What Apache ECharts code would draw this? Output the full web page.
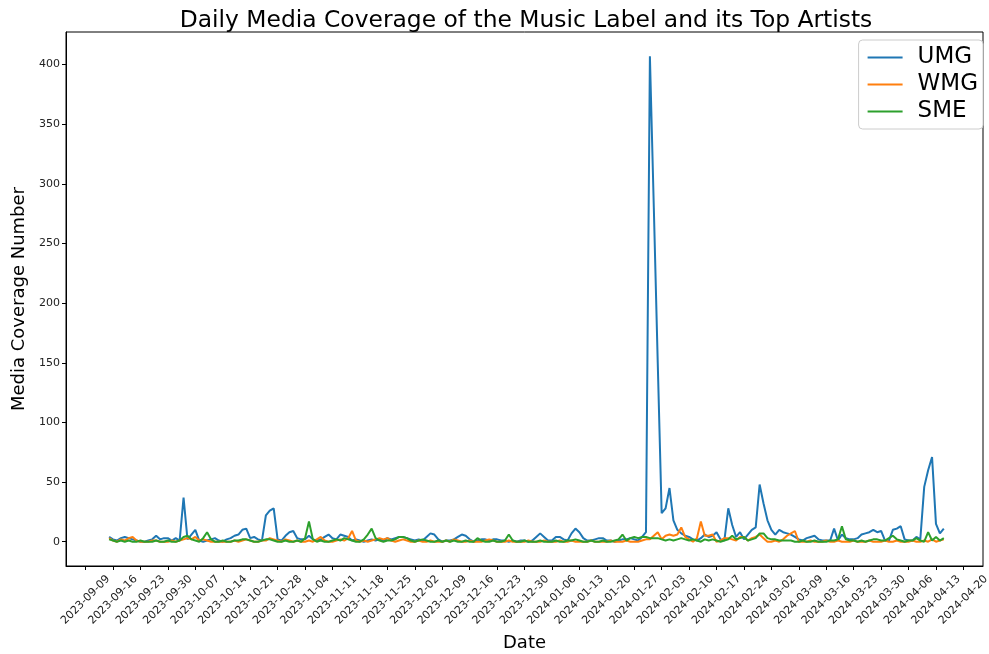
<!DOCTYPE html>
<html>
<head>
<meta charset="utf-8">
<script src="https://cdn.jsdelivr.net/npm/echarts@6/dist/echarts.min.js"></script>
<style>html,body{margin:0;padding:0;background:#fff}#c{width:989px;height:654px}</style>
</head>
<body>
<div id="c"></div>
<script>
// ---- data ----
const dataStart = '2023-09-15';           // first daily observation
const axisStart = '2023-09-04';           // left edge of the x axis
const axisEnd = '2024-04-25';             // right edge of the x axis
const seriesNames = ['UMG', 'WMG', 'SME'];
const umg = [
  4, 2, 1, 3, 4, 3, 2, 1, 0, 0,
  1, 2, 5, 2, 3, 3, 1, 3, 1, 37,
  2, 6, 10, 1, 0, 1, 2, 3, 1, 0,
  2, 3, 5, 6, 10, 11, 3, 4, 2, 1,
  22, 26, 28, 2, 1, 5, 8, 9, 3, 2,
  2, 5, 2, 1, 2, 4, 6, 3, 2, 6,
  5, 4, 1, 2, 1, 0, 1, 2, 1, 2,
  1, 3, 2, 3, 4, 4, 3, 2, 1, 2,
  1, 4, 7, 6, 2, 0, 1, 1, 2, 4,
  6, 5, 2, 0, 1, 2, 2, 1, 2, 2,
  1, 1, 0, 1, 0, 1, 1, 0, 1, 4,
  7, 4, 1, 1, 4, 4, 2, 1, 7, 11,
  8, 3, 1, 1, 2, 3, 3, 1, 1, 0,
  1, 2, 2, 3, 2, 1, 4, 8, 407, 280,
  150, 24, 28, 45, 18, 10, 7, 5, 4, 2,
  1, 3, 6, 4, 5, 8, 2, 1, 28, 14,
  4, 8, 2, 6, 10, 12, 48, 32, 18, 10,
  6, 10, 8, 7, 6, 4, 2, 1, 3, 4,
  5, 2, 1, 1, 1, 11, 1, 6, 3, 2,
  2, 3, 6, 7, 8, 10, 8, 9, 1, 1,
  10, 11, 13, 2, 1, 1, 4, 2, 46, 60,
  71, 15, 7, 11
];
const wmg = [
  3, 1, 0, 2, 1, 3, 4, 1, 0, 0,
  0, 1, 1, 0, 0, 0, 1, 0, 1, 2,
  3, 2, 4, 1, 2, 1, 0, 0, 0, 0,
  0, 0, 1, 0, 1, 2, 1, 0, 0, 1,
  1, 3, 2, 1, 0, 2, 1, 0, 1, 0,
  0, 1, 0, 2, 4, 1, 0, 0, 1, 2,
  1, 3, 9, 1, 0, 1, 0, 1, 2, 3,
  2, 3, 1, 0, 1, 2, 1, 0, 0, 1,
  0, 0, 1, 0, 0, 0, 1, 0, 2, 1,
  0, 0, 1, 0, 0, 0, 1, 2, 1, 0,
  0, 0, 1, 0, 0, 0, 0, 1, 0, 0,
  0, 1, 0, 0, 0, 1, 0, 0, 1, 0,
  0, 0, 0, 1, 0, 0, 0, 0, 1, 0,
  0, 0, 1, 0, 0, 0, 1, 2, 2, 5,
  8, 2, 5, 6, 5, 6, 12, 4, 2, 0,
  3, 17, 5, 5, 6, 0, 1, 3, 3, 2,
  1, 4, 4, 1, 3, 4, 6, 3, 0, 0,
  1, 0, 2, 5, 7, 9, 0, 0, 0, 1,
  0, 0, 0, 1, 0, 0, 1, 0, 0, 0,
  1, 0, 0, 0, 1, 0, 0, 0, 1, 0,
  0, 1, 0, 0, 0, 1, 0, 0, 1, 0,
  2, 0, 1, 2
];
const sme = [
  2, 1, 0, 1, 0, 1, 0, 0, 1, 0,
  0, 0, 1, 0, 0, 1, 0, 0, 1, 4,
  5, 2, 1, 0, 3, 8, 2, 0, 0, 1,
  0, 0, 1, 1, 2, 2, 1, 0, 0, 1,
  2, 2, 1, 0, 0, 1, 0, 0, 1, 0,
  3, 17, 2, 0, 1, 0, 0, 1, 2, 1,
  3, 2, 1, 0, 0, 2, 6, 11, 3, 1,
  0, 1, 1, 2, 4, 4, 3, 1, 0, 1,
  2, 1, 0, 0, 1, 0, 1, 0, 1, 0,
  0, 1, 0, 0, 3, 1, 0, 0, 1, 0,
  0, 1, 6, 1, 0, 0, 1, 0, 0, 0,
  1, 0, 0, 0, 1, 0, 0, 1, 1, 2,
  1, 0, 0, 1, 0, 0, 1, 0, 0, 1,
  2, 6, 1, 3, 4, 3, 4, 4, 3, 3,
  3, 2, 1, 2, 1, 2, 3, 2, 1, 2,
  1, 0, 2, 1, 2, 1, 0, 1, 2, 5,
  2, 3, 4, 1, 2, 3, 7, 7, 3, 2,
  2, 1, 1, 1, 1, 0, 0, 1, 0, 0,
  1, 0, 0, 0, 1, 1, 2, 13, 2, 1,
  1, 0, 1, 0, 1, 2, 2, 1, 1, 3,
  5, 2, 1, 0, 1, 1, 3, 1, 0, 8,
  1, 4, 1, 3
];
const yTicks = [0, 50, 100, 150, 200, 250, 300, 350, 400];
// ---- build categories ----
const DAY = 86400000;
function ts(s){ return Date.UTC(+s.slice(0,4), +s.slice(5,7)-1, +s.slice(8,10)); }
function fmt(t){ const d = new Date(t); return d.getUTCFullYear()+'-'+String(d.getUTCMonth()+1).padStart(2,'0')+'-'+String(d.getUTCDate()).padStart(2,'0'); }
const cats = [];
for (let t = ts(axisStart); t <= ts(axisEnd); t += DAY) cats.push(fmt(t));
const offset = Math.round((ts(dataStart) - ts(axisStart)) / DAY);
function pad(arr){ const out = cats.map(() => null); arr.forEach((v,i) => { out[offset+i] = v; }); return out; }
const tickRef = ts('2023-09-09');
function isTick(idx){ const d = Math.round((ts(cats[idx]) - tickRef)/DAY); return ((d % 7) + 7) % 7 === 0; }
const colors = ['#1f77b4', '#ff7f0e', '#2ca02c'];
const font = 'DejaVu Sans';
const chart = echarts.init(document.getElementById('c'));
chart.setOption({
  animation: false,
  backgroundColor: '#fff',
  title: {
    text: 'Daily Media Coverage of the Music Label and its Top Artists',
    left: 521, top: 4, textAlign: 'center',
    textStyle: { fontFamily: font, fontSize: 23.4, fontWeight: 'normal', color: '#000' }
  },
  legend: {
    data: seriesNames.map(n => ({ name: n, icon: 'rect' })),
    orient: 'vertical', right: 6, top: 40,
    itemWidth: 35, itemHeight: 2, itemGap: 4,
    padding: [6, 5, 6, 9],
    backgroundColor: '#fff', borderColor: '#cccccc', borderWidth: 1, borderRadius: 4,
    textStyle: { fontFamily: font, fontSize: 23, color: '#000', padding: [0, 0, 0, 10] }
  },
  grid: { left: 66, right: 6, top: 32, bottom: 88, containLabel: false, outerBoundsMode: 'none',
    show: true, borderColor: '#000', borderWidth: 1, backgroundColor: 'transparent' },
  xAxis: {
    type: 'category', data: cats, boundaryGap: false,
    name: 'Date', nameLocation: 'middle', nameGap: 68,
    nameTextStyle: { fontFamily: font, fontSize: 18, color: '#000' },
    axisLine: { onZero: false, lineStyle: { color: '#000', width: 1 } },
    axisTick: { length: 4, interval: (i) => isTick(i), lineStyle: { color: '#000' } },
    axisLabel: { interval: (i) => isTick(i), rotate: 45, margin: 34, align: 'center', verticalAlign: 'middle',
      hideOverlap: false, fontFamily: font, fontSize: 11, color: '#222' },
    splitLine: { show: false }
  },
  yAxis: {
    type: 'value', min: -20.35, max: 427.35, splitNumber: 9,
    name: 'Media Coverage Number', nameLocation: 'middle', nameGap: 28, nameRotate: 90,
    nameTextStyle: { fontFamily: font, fontSize: 18, color: '#000' },
    axisLine: { show: true, lineStyle: { color: '#000', width: 1 } },
    axisTick: { show: true, length: 4, customValues: yTicks, lineStyle: { color: '#000' } },
    axisLabel: { fontFamily: font, fontSize: 11, color: '#222', margin: 6, customValues: yTicks },
    splitLine: { show: false }
  },
  series: [
    { name: seriesNames[0], type: 'line', data: pad(umg), symbol: 'none', color: colors[0], lineStyle: { width: 2 } },
    { name: seriesNames[1], type: 'line', data: pad(wmg), symbol: 'none', color: colors[1], lineStyle: { width: 2 } },
    { name: seriesNames[2], type: 'line', data: pad(sme), symbol: 'none', color: colors[2], lineStyle: { width: 2 } }
  ]
});
</script>
</body>
</html>
